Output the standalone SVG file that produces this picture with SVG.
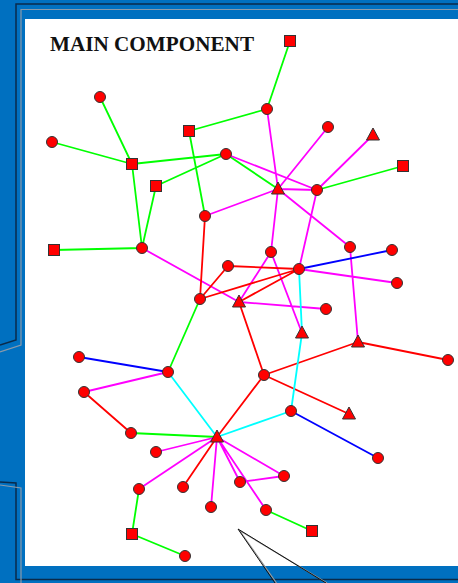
<svg xmlns="http://www.w3.org/2000/svg" width="458" height="583" viewBox="0 0 458 583">
<style>
.e{fill:none;stroke-width:1.8}
.g{stroke:#00FF00}.m{stroke:#FF00FF}.r{stroke:#FF0000}.b{stroke:#0000FF}.c{stroke:#00FFFF}
.n{fill:#FF0000;stroke:#333;stroke-width:1}
.fr{fill:none;stroke:#0a2a4a;stroke-width:1.5}
.fg{fill:none;stroke:#8a9aaa;stroke-width:1.2}
</style>
<rect width="458" height="583" fill="#0070C0"/>
<g id="frame">
<polyline class="fr" points="458,4 16,4 16,340 0,345"/>
<polyline class="fg" points="458,9.5 21,9.5 21,345 0,352"/>
<polyline class="fr" points="0,482 16,483 16,579.5 458,579.5"/>
<polyline class="fg" points="0,485 21,488 21,583"/>
<rect x="25" y="19" width="433" height="547" fill="#FFFFFF"/>
</g>
<text x="50" y="51" font-family="Liberation Serif, serif" font-weight="bold" font-size="22" textLength="204" lengthAdjust="spacingAndGlyphs" fill="#111">MAIN COMPONENT</text>
<g id="connectors">
<path class="e g" d="M290,41L267,109M267,109L189,131M100,97L132,164M52,142L132,164M132,164L226,154M156,186L226,154M226,154L278,189M189,131L205,216M317,190L403,166M132,164L142,248M156,186L142,248M54,250L142,248M200,299L168,372M131,433L217,437M139,489L132,534M132,534L185,556M266,510L312,531"/>
<path class="e m" d="M267,109L278,189M278,189L271,252M328,127L278,189M373,135L317,190M226,154L317,190M278,189L317,190M278,189L205,216M278,189L350,247M317,190L299,269M350,247L358,342M142,248L239,302M271,252L239,302M271,252L302,333M299,269L397,283M239,302L326,309M168,372L84,392M217,437L156,452M217,437L139,489M217,437L211,507M217,437L240,482M217,437L284,476M217,437L266,510M240,482L284,476"/>
<path class="e r" d="M205,216L200,299M228,266L299,269M228,266L200,299M200,299L299,269M239,302L299,269M239,302L264,375M264,375L358,342M358,342L448,360M264,375L349,414M264,375L217,437M84,392L131,433M217,437L183,487"/>
<path class="e b" d="M299,269L392,250M79,357L168,372M291,411L378,458"/>
<path class="e c" d="M299,269L302,333M302,333L291,411M168,372L217,437M217,437L291,411"/>
</g>
<g id="nodes">
<rect id="n1" class="n" x="284.5" y="35.5" width="11" height="11"/>
<circle id="n2" class="n" cx="267" cy="109" r="5.5"/>
<circle id="n3" class="n" cx="100" cy="97" r="5.5"/>
<circle id="n4" class="n" cx="52" cy="142" r="5.5"/>
<rect id="n5" class="n" x="183.5" y="125.5" width="11" height="11"/>
<circle id="n6" class="n" cx="226" cy="154" r="5.5"/>
<circle id="n7" class="n" cx="328" cy="127" r="5.5"/>
<polygon id="n8" class="n" points="373,128 379.5,140 366.5,140"/>
<rect id="n9" class="n" x="397.5" y="160.5" width="11" height="11"/>
<rect id="n10" class="n" x="126.5" y="158.5" width="11" height="11"/>
<rect id="n11" class="n" x="150.5" y="180.5" width="11" height="11"/>
<polygon id="n12" class="n" points="278,182 284.5,194 271.5,194"/>
<circle id="n13" class="n" cx="317" cy="190" r="5.5"/>
<circle id="n14" class="n" cx="205" cy="216" r="5.5"/>
<rect id="n15" class="n" x="48.5" y="244.5" width="11" height="11"/>
<circle id="n16" class="n" cx="142" cy="248" r="5.5"/>
<circle id="n17" class="n" cx="350" cy="247" r="5.5"/>
<circle id="n18" class="n" cx="392" cy="250" r="5.5"/>
<circle id="n19" class="n" cx="271" cy="252" r="5.5"/>
<circle id="n20" class="n" cx="228" cy="266" r="5.5"/>
<circle id="n21" class="n" cx="299" cy="269" r="5.5"/>
<circle id="n22" class="n" cx="397" cy="283" r="5.5"/>
<circle id="n23" class="n" cx="200" cy="299" r="5.5"/>
<polygon id="n24" class="n" points="239,295 245.5,307 232.5,307"/>
<circle id="n25" class="n" cx="326" cy="309" r="5.5"/>
<polygon id="n26" class="n" points="302,326 308.5,338 295.5,338"/>
<polygon id="n27" class="n" points="358,335 364.5,347 351.5,347"/>
<circle id="n28" class="n" cx="448" cy="360" r="5.5"/>
<circle id="n29" class="n" cx="79" cy="357" r="5.5"/>
<circle id="n30" class="n" cx="168" cy="372" r="5.5"/>
<circle id="n31" class="n" cx="264" cy="375" r="5.5"/>
<circle id="n32" class="n" cx="84" cy="392" r="5.5"/>
<circle id="n33" class="n" cx="291" cy="411" r="5.5"/>
<polygon id="n34" class="n" points="349,407 355.5,419 342.5,419"/>
<circle id="n35" class="n" cx="131" cy="433" r="5.5"/>
<polygon id="n36" class="n" points="217,430 223.5,442 210.5,442"/>
<circle id="n37" class="n" cx="156" cy="452" r="5.5"/>
<circle id="n38" class="n" cx="378" cy="458" r="5.5"/>
<circle id="n39" class="n" cx="284" cy="476" r="5.5"/>
<circle id="n40" class="n" cx="240" cy="482" r="5.5"/>
<circle id="n41" class="n" cx="139" cy="489" r="5.5"/>
<circle id="n42" class="n" cx="183" cy="487" r="5.5"/>
<circle id="n43" class="n" cx="211" cy="507" r="5.5"/>
<circle id="n44" class="n" cx="266" cy="510" r="5.5"/>
<rect id="n45" class="n" x="306.5" y="525.5" width="11" height="11"/>
<rect id="n46" class="n" x="126.5" y="528.5" width="11" height="11"/>
<circle id="n47" class="n" cx="185" cy="556" r="5.5"/>
</g>
<g id="callout" fill="none">
<polyline points="276.5,583 239.5,530.5 327,583" stroke="#999" stroke-width="1.2"/>
<polyline points="275,583 238,529 326,583" stroke="#111" stroke-width="1"/>
</g>
</svg>
